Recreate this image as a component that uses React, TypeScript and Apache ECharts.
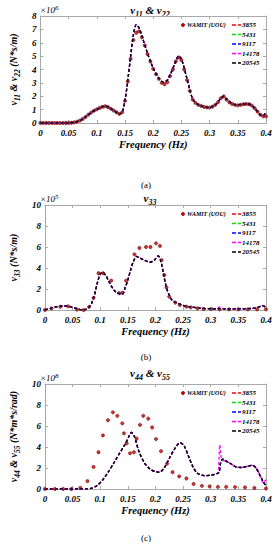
import React, { useEffect, useRef } from "react";
import * as echarts from "echarts";

// ---------- Panel (a): v11 & v22 (x10^6 N*s/m) ----------
const aWamitFreq = [0, 0.005, 0.01, 0.015, 0.02, 0.025, 0.03, 0.035, 0.04, 0.045, 0.05, 0.055, 0.06, 0.065, 0.07, 0.075, 0.08, 0.085, 0.09, 0.095, 0.1, 0.105, 0.11, 0.115, 0.12, 0.125, 0.13, 0.135, 0.14, 0.145, 0.15, 0.155, 0.16, 0.165, 0.17, 0.175, 0.18, 0.185, 0.19, 0.195, 0.2, 0.205, 0.21, 0.215, 0.22, 0.225, 0.23, 0.235, 0.24, 0.245, 0.25, 0.255, 0.26, 0.265, 0.27, 0.275, 0.28, 0.285, 0.29, 0.295, 0.3, 0.305, 0.31, 0.315, 0.32, 0.325, 0.33, 0.335, 0.34, 0.345, 0.35, 0.355, 0.36, 0.365, 0.37, 0.375, 0.38, 0.385, 0.39, 0.395, 0.4];
const aWamitVal = [0, 0, 0, 0, 0, 0, 0, 0, 0, 0, 0, 0.02, 0.05, 0.1, 0.18, 0.3, 0.45, 0.62, 0.78, 0.92, 1.02, 1.12, 1.2, 1.25, 1.18, 1.06, 0.93, 0.8, 0.68, 0.8, 1.65, 3.1, 4.8, 6.2, 6.75, 6.85, 6.4, 5.8, 5.15, 4.6, 4.05, 3.65, 3.3, 3.0, 2.9, 3.05, 3.5, 4.0, 4.6, 4.9, 4.7, 4.0, 3.2, 2.4, 1.75, 1.5, 1.35, 1.28, 1.2, 1.17, 1.15, 1.22, 1.35, 1.55, 1.85, 1.98, 1.75, 1.55, 1.42, 1.35, 1.32, 1.35, 1.4, 1.42, 1.4, 1.3, 1.1, 0.85, 0.62, 0.5, 0.5];
const aLineFreq = [0, 0.01, 0.02, 0.03, 0.04, 0.05, 0.06, 0.07, 0.08, 0.09, 0.1, 0.11, 0.115, 0.12, 0.13, 0.14, 0.145, 0.15, 0.155, 0.16, 0.165, 0.17, 0.175, 0.18, 0.19, 0.2, 0.21, 0.218, 0.225, 0.23, 0.24, 0.245, 0.25, 0.26, 0.27, 0.28, 0.29, 0.3, 0.31, 0.32, 0.325, 0.33, 0.34, 0.35, 0.36, 0.37, 0.38, 0.39, 0.395, 0.4];
const aLineVal = [0, 0, 0, 0, 0, 0, 0.05, 0.18, 0.45, 0.78, 1.02, 1.22, 1.27, 1.2, 0.95, 0.68, 0.8, 1.7, 3.2, 5.0, 6.6, 7.35, 7.1, 6.5, 5.2, 4.1, 3.35, 3.05, 3.2, 3.6, 4.6, 5.0, 4.8, 3.3, 1.8, 1.38, 1.22, 1.15, 1.35, 1.85, 2.0, 1.78, 1.45, 1.35, 1.42, 1.42, 1.1, 0.6, 0.55, 0.85];

// ---------- Panel (b): v33 (x10^5 N*s/m) ----------
const bWamitFreq = [0, 0.012, 0.028, 0.042, 0.058, 0.07, 0.08, 0.088, 0.097, 0.105, 0.12, 0.134, 0.14, 0.147, 0.162, 0.171, 0.183, 0.191, 0.201, 0.208, 0.211, 0.216, 0.22, 0.225, 0.236, 0.244, 0.256, 0.264, 0.276, 0.287, 0.301, 0.316, 0.333, 0.35, 0.367, 0.384, 0.4];
const bWamitVal = [0, 0.15, 0.3, 0.35, 0.05, 0.0, 0.3, 1.15, 3.5, 3.5, 2.8, 1.6, 1.65, 2.8, 5.3, 5.9, 6.0, 6.0, 6.35, 6.1, 4.75, 3.33, 2.15, 1.27, 0.7, 0.48, 0.32, 0.25, 0.16, 0.1, 0.1, 0.06, 0.06, 0.06, 0.06, 0.06, 0.06];
const bLineFreq = [0, 0.01, 0.02, 0.03, 0.04, 0.05, 0.06, 0.068, 0.075, 0.08, 0.085, 0.09, 0.095, 0.1, 0.104, 0.11, 0.115, 0.12, 0.125, 0.13, 0.14, 0.145, 0.15, 0.155, 0.16, 0.166, 0.17, 0.18, 0.19, 0.198, 0.205, 0.21, 0.215, 0.22, 0.225, 0.23, 0.24, 0.25, 0.26, 0.28, 0.3, 0.31, 0.316, 0.322, 0.34, 0.36, 0.38, 0.39, 0.395, 0.4];
const bLineVal = [0, 0.15, 0.3, 0.38, 0.38, 0.25, 0.1, 0.0, 0.08, 0.3, 0.7, 1.5, 2.6, 3.4, 3.6, 3.3, 2.8, 2.3, 1.9, 1.65, 1.5, 2.1, 2.85, 3.8, 4.6, 5.1, 5.0, 4.75, 4.55, 4.75, 5.15, 4.6, 3.3, 2.1, 1.4, 0.95, 0.65, 0.45, 0.32, 0.18, 0.12, 0.12, 0.13, 0.12, 0.1, 0.12, 0.18, 0.35, 0.4, 0.2];
const bLineVal14178 = [0, 0.15, 0.3, 0.38, 0.38, 0.25, 0.1, 0.0, 0.08, 0.3, 0.7, 1.5, 2.6, 3.4, 3.6, 3.3, 2.8, 2.3, 1.9, 1.65, 1.5, 2.1, 2.85, 3.8, 4.6, 5.1, 5.0, 4.75, 4.55, 4.75, 5.15, 4.6, 3.3, 2.1, 1.4, 0.95, 0.65, 0.45, 0.32, 0.18, 0.12, 0.14, 0.3, 0.14, 0.1, 0.12, 0.18, 0.35, 0.45, 0.25];

// ---------- Panel (c): v44 & v55 (x10^8 N*m*s/rad) ----------
const cWamitFreq = [0, 0.018, 0.033, 0.048, 0.064, 0.077, 0.088, 0.097, 0.105, 0.114, 0.123, 0.131, 0.14, 0.143, 0.148, 0.154, 0.161, 0.166, 0.172, 0.178, 0.187, 0.194, 0.201, 0.21, 0.221, 0.231, 0.243, 0.256, 0.269, 0.284, 0.298, 0.313, 0.328, 0.344, 0.362, 0.379, 0.4];
const cWamitVal = [0, 0, 0, 0, 0.1, 0.75, 2.1, 3.5, 5.1, 6.55, 7.3, 6.97, 6.25, 5.3, 4.35, 3.4, 3.5, 4.8, 6.1, 6.97, 6.7, 5.86, 4.75, 3.6, 2.42, 1.6, 1.2, 1.0, 0.48, 0.3, 0.25, 0.2, 0.2, 0.18, 0.15, 0.1, 0.05];
const cLineFreq = [0, 0.02, 0.04, 0.06, 0.075, 0.085, 0.095, 0.105, 0.115, 0.125, 0.135, 0.145, 0.152, 0.157, 0.162, 0.17, 0.18, 0.19, 0.2, 0.207, 0.215, 0.225, 0.235, 0.245, 0.252, 0.26, 0.268, 0.276, 0.288, 0.3, 0.31, 0.315, 0.318, 0.322, 0.328, 0.335, 0.345, 0.355, 0.365, 0.375, 0.382, 0.39, 0.395, 0.4];
const cLineVal = [0, 0, 0, 0, 0, 0.08, 0.35, 0.9, 1.65, 2.5, 3.4, 4.25, 5.0, 5.38, 5.0, 3.6, 2.5, 1.9, 1.65, 1.6, 1.95, 2.9, 3.85, 4.4, 4.1, 3.1, 2.1, 1.5, 1.28, 1.3, 1.45, 1.58, 2.5, 2.85, 2.65, 2.45, 2.12, 2.05, 2.15, 2.25, 2.0, 1.2, 0.7, 0.3];
const cLineFreq14178 = [0, 0.02, 0.04, 0.06, 0.075, 0.085, 0.095, 0.105, 0.115, 0.125, 0.135, 0.145, 0.152, 0.157, 0.162, 0.17, 0.18, 0.19, 0.2, 0.207, 0.215, 0.225, 0.235, 0.245, 0.252, 0.26, 0.268, 0.276, 0.288, 0.3, 0.31, 0.3135, 0.3165, 0.32, 0.328, 0.335, 0.345, 0.355, 0.365, 0.375, 0.382, 0.39, 0.395, 0.4];
const cLineVal14178 = [0, 0, 0, 0, 0, 0.08, 0.35, 0.9, 1.65, 2.5, 3.4, 4.25, 5.0, 5.38, 5.0, 3.6, 2.5, 1.9, 1.65, 1.6, 1.95, 2.9, 3.85, 4.4, 4.1, 3.1, 2.1, 1.5, 1.28, 1.3, 1.45, 1.6, 4.2, 2.8, 2.65, 2.45, 2.12, 2.05, 2.15, 2.25, 2.0, 1.2, 0.6, 0.9];

const freqTicks = [0, 0.05, 0.1, 0.15, 0.2, 0.25, 0.3, 0.35, 0.4];
const runNames = ["3855", "5431", "9117", "14178", "20545"];
const runColors = ["#ff0000", "#00e600", "#0000ff", "#ff00ff", "#000000"];
const wamitName = "WAMIT (UOU)";

const SERIF = "'Liberation Serif', 'Times New Roman', serif";

const pairs = (xs: number[], ys: number[]) => xs.map((x, i) => [x, ys[i]]);

const panels = [
  {
    wamit: pairs(aWamitFreq, aWamitVal),
    lines: [pairs(aLineFreq, aLineVal), pairs(aLineFreq, aLineVal), pairs(aLineFreq, aLineVal), pairs(aLineFreq, aLineVal), pairs(aLineFreq, aLineVal)],
    yMax: 8, yInt: 1, exp: "6",
    title: "{m|v}{s|11}{m| & v}{s|22}",
    yName: "{m|v}{s|11}{m| & v}{s|22}{m| (N*s/m)}",
    tag: "(a)",
  },
  {
    wamit: pairs(bWamitFreq, bWamitVal),
    lines: [pairs(bLineFreq, bLineVal), pairs(bLineFreq, bLineVal), pairs(bLineFreq, bLineVal), pairs(bLineFreq, bLineVal14178), pairs(bLineFreq, bLineVal)],
    yMax: 10, yInt: 2, exp: "5",
    title: "{m|v}{s|33}",
    yName: "{m|v}{s|33}{m| (N*s/m)}",
    tag: "(b)",
  },
  {
    wamit: pairs(cWamitFreq, cWamitVal),
    lines: [pairs(cLineFreq, cLineVal), pairs(cLineFreq, cLineVal), pairs(cLineFreq, cLineVal), pairs(cLineFreq14178, cLineVal14178), pairs(cLineFreq, cLineVal)],
    yMax: 10, yInt: 2, exp: "8",
    title: "{m|v}{s|44}{m| & v}{s|55}",
    yName: "{m|v}{s|44}{m| & v}{s|55}{m| (N*m*s/rad)}",
    tag: "(c)",
  },
];

const layout = [
  { top: 16, height: 107, titleY: 10, tagY: 185 },
  { top: 205, height: 105, titleY: 198, tagY: 357 },
  { top: 384, height: 105, titleY: 373, tagY: 538 },
];

const bi = { fontFamily: SERIF, fontWeight: "bold" as const, fontStyle: "italic" as const, color: "#000" };

function richSub(size: number, sub: number) {
  return {
    m: { ...bi, fontSize: size, lineHeight: size + 6, verticalAlign: "middle" },
    s: { ...bi, fontSize: sub, lineHeight: sub, verticalAlign: "bottom" },
  };
}

export default function App() {
  const ref = useRef<HTMLDivElement>(null);
  useEffect(() => {
    if (!ref.current) return;
    const chart = echarts.init(ref.current, undefined, { renderer: "svg" });
    const GL = 33, GR = 10;
    const axisLine = { show: true, onZero: false, lineStyle: { color: "#a8a8a8", width: 1 } };
    const axisTick = { show: true, inside: true, length: 3, lineStyle: { color: "#a8a8a8" } };
    const grid: any[] = [];
    const xAxis: any[] = [];
    const yAxis: any[] = [];
    const series: any[] = [];
    const graphic: any[] = [];

    panels.forEach((p, i) => {
      const L = layout[i];
      grid.push({ left: GL, right: GR, top: L.top, height: L.height, containLabel: false });
      xAxis.push({
        type: "value", gridIndex: i, position: "bottom", min: freqTicks[0], max: freqTicks[freqTicks.length - 1], interval: 0.05,
        axisLine, axisTick, splitLine: { show: false },
        axisLabel: { ...bi, fontSize: 9, margin: 5 },
        name: "Frequency (Hz)", nameLocation: "middle", nameGap: 16,
        nameTextStyle: { ...bi, fontSize: 10.5 },
      });
      xAxis.push({
        type: "value", gridIndex: i, position: "top", min: 0, max: 0.4, interval: 0.05,
        axisLine, axisTick, axisLabel: { show: false }, splitLine: { show: false },
      });
      yAxis.push({
        type: "value", gridIndex: i, position: "left", min: 0, max: p.yMax, interval: p.yInt,
        axisLine, axisTick, splitLine: { show: false },
        axisLabel: { ...bi, fontSize: 9, margin: 4 },
        name: p.yName, nameLocation: "middle", nameGap: 10, nameRotate: 90,
        nameTextStyle: { rich: richSub(10, 7.5) },
      });
      yAxis.push({
        type: "value", gridIndex: i, position: "right", min: 0, max: p.yMax, interval: p.yInt,
        axisLine, axisTick, axisLabel: { show: false }, splitLine: { show: false },
      });
      series.push({
        type: "scatter", name: wamitName, xAxisIndex: 2 * i, yAxisIndex: 2 * i,
        data: p.wamit, symbol: "circle", symbolSize: 3.3,
        itemStyle: { color: "#c40000", borderColor: "#550000", borderWidth: 0.6 },
        z: 2,
      });
      p.lines.forEach((d, k) => {
        series.push({
          type: "line", name: runNames[k], xAxisIndex: 2 * i, yAxisIndex: 2 * i,
          data: d, showSymbol: false, symbol: "none", smooth: 0.3,
          lineStyle: { color: runColors[k], width: 1.3, type: [3, 2] },
          z: 3 + k,
        });
      });

      // title
      graphic.push({
        type: "text", x: 150, y: L.titleY,
        style: { text: p.title, rich: richSub(11, 8), textAlign: "center", align: "center", textVerticalAlign: "middle", verticalAlign: "middle" },
      });
      // exponent
      graphic.push({
        type: "text", x: 40, y: L.top - 6,
        style: {
          text: "{m|\u00d710}{s|" + p.exp + "}",
          rich: {
            m: { fontFamily: SERIF, fontStyle: "italic", fontSize: 9, lineHeight: 12, verticalAlign: "middle", color: "#000" },
            s: { fontFamily: SERIF, fontStyle: "italic", fontSize: 7, lineHeight: 7, verticalAlign: "top", color: "#000" },
          },
          textAlign: "left", align: "left", textVerticalAlign: "middle", verticalAlign: "middle",
        },
      });
      // panel tag
      graphic.push({
        type: "text", x: 146, y: L.tagY,
        style: { text: p.tag, fontFamily: SERIF, fontSize: 9, fill: "#000", textAlign: "center", align: "center", textVerticalAlign: "middle", verticalAlign: "middle" },
      });
      // legend
      const y0 = L.top + 9;
      const dy = 9.5;
      graphic.push({
        type: "circle", shape: { cx: 183, cy: y0, r: 1.7 },
        style: { fill: "#c40000", stroke: "#550000", lineWidth: 0.5 },
      });
      graphic.push({
        type: "text", x: 187, y: y0,
        style: { text: wamitName, fontFamily: SERIF, fontWeight: "bold", fontStyle: "italic", fontSize: 6, fill: "#000", textAlign: "left", align: "left", textVerticalAlign: "middle", verticalAlign: "middle" },
      });
      runNames.forEach((nm, k) => {
        const yy = y0 + dy * k;
        graphic.push({
          type: "line", shape: { x1: 232, y1: yy, x2: 241, y2: yy },
          style: { stroke: runColors[k], lineWidth: 1.3, lineDash: [4, 2] },
        });
        graphic.push({
          type: "text", x: 242, y: yy,
          style: { text: nm, fontFamily: SERIF, fontWeight: "bold", fontStyle: "italic", fontSize: 7, fill: "#000", textAlign: "left", align: "left", textVerticalAlign: "middle", verticalAlign: "middle" },
        });
      });
    });

    chart.setOption({
      animation: false,
      backgroundColor: "#ffffff",
      grid, xAxis, yAxis, series, graphic,
    });
    return () => chart.dispose();
  }, []);

  return (
    <div style={{ position: "fixed", left: 0, top: 0, width: 276, height: 550, background: "#fff" }}>
      <div ref={ref} style={{ width: 276, height: 550 }} />
    </div>
  );
}
